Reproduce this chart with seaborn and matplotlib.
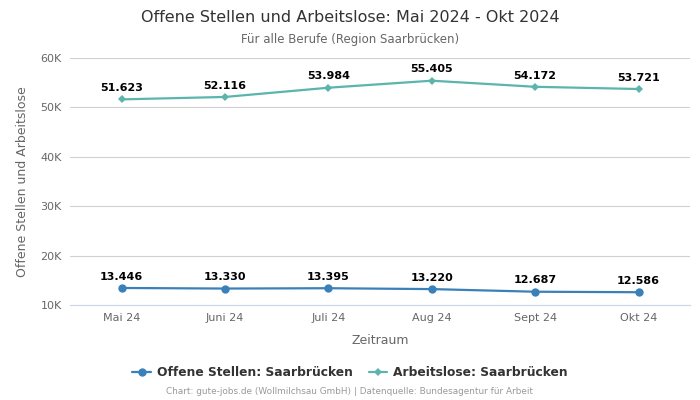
import pandas as pd
import numpy as np
import matplotlib
matplotlib.use('Agg')
import matplotlib.pyplot as plt
import seaborn as sns
from matplotlib.ticker import FuncFormatter

# Daten
monate = ['Mai 24', 'Juni 24', 'Juli 24', 'Aug 24', 'Sept 24', 'Okt 24']
offene_stellen = [13446, 13330, 13395, 13220, 12687, 12586]
arbeitslose = [51623, 52116, 53984, 55405, 54172, 53721]

blau = '#3a80b9'
tuerkis = '#5bb5ad'

sns.set_theme(style='white')
plt.rcParams['font.family'] = ['DejaVu Sans']

df = pd.DataFrame({'Monat': monate, 'pos': range(len(monate)),
                   'Offene Stellen': offene_stellen, 'Arbeitslose': arbeitslose})

fig = plt.figure(figsize=(7, 4), dpi=100)
ax = fig.add_axes([0.1, 0.2375, 0.886, 0.6175])

sns.lineplot(data=df, x='pos', y='Offene Stellen', ax=ax, color=blau, marker='o',
             markersize=6, markeredgewidth=0, linewidth=1.6,
             label='Offene Stellen: Saarbrücken')
sns.lineplot(data=df, x='pos', y='Arbeitslose', ax=ax, color=tuerkis, marker='D',
             markersize=4.5, markeredgewidth=0, linewidth=1.6,
             label='Arbeitslose: Saarbrücken')

def de(v):
    return f'{v:,}'.replace(',', '.')

for i in range(len(monate)):
    ax.annotate(de(offene_stellen[i]), (i, offene_stellen[i]), xytext=(0, 4.5),
                textcoords='offset points', ha='center', va='bottom',
                fontsize=8, fontweight='bold', color='black')
    ax.annotate(de(arbeitslose[i]), (i, arbeitslose[i]), xytext=(0, 4.5),
                textcoords='offset points', ha='center', va='bottom',
                fontsize=8, fontweight='bold', color='black')

ax.set_xlim(-0.5, len(monate) - 0.5)
ax.set_ylim(10000, 60000)
ax.set_yticks([10000, 20000, 30000, 40000, 50000, 60000])
ax.yaxis.set_major_formatter(FuncFormatter(lambda v, p: f'{int(v/1000)}K'))
ax.set_xticks(range(len(monate)))
ax.set_xticklabels(monate)
ax.tick_params(axis='both', labelsize=8, colors='#666666', length=0, pad=6)
ax.grid(axis='y', color='#d0d0d0', linewidth=0.8)
ax.set_axisbelow(True)
for s in ax.spines.values():
    s.set_visible(False)
ax.spines['bottom'].set_visible(True)
ax.spines['bottom'].set_color('#ccd6eb')
ax.spines['bottom'].set_linewidth(0.8)

ax.set_xlabel('Zeitraum', fontsize=9, color='#666666', labelpad=8)
ax.set_ylabel('Offene Stellen und Arbeitslose', fontsize=9, color='#666666', labelpad=8)

fig.text(0.5, 0.957, 'Offene Stellen und Arbeitslose: Mai 2024 - Okt 2024',
         ha='center', va='center', fontsize=11.5, color='#333333')
fig.text(0.5, 0.902, 'Für alle Berufe (Region Saarbrücken)',
         ha='center', va='center', fontsize=8.5, color='#666666')

leg = ax.legend(loc='center', bbox_to_anchor=(0.5, 0.0675), bbox_transform=fig.transFigure,
                ncol=2, frameon=False, fontsize=8.8, handlelength=1.5, handletextpad=0.5,
                columnspacing=1.3)
for t in leg.get_texts():
    t.set_fontweight('bold')
    t.set_color('#333333')

fig.text(0.5, 0.02, 'Chart: gute-jobs.de (Wollmilchsau GmbH) | Datenquelle: Bundesagentur für Arbeit',
         ha='center', va='center', fontsize=6.4, color='#999999')

fig.savefig('out.png', dpi=100)
